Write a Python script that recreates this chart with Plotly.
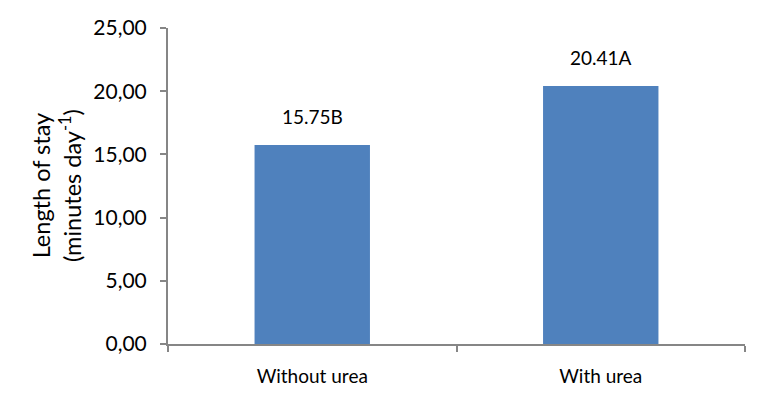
import plotly.graph_objects as go

categories = ['Without urea', 'With urea']
stay_minutes = [15.75, 20.41]
bar_labels = ['15.75B', '20.41A']
y_ticks = [0, 5, 10, 15, 20, 25]

fig = go.Figure()
fig.add_trace(go.Bar(
    x=categories,
    y=stay_minutes,
    width=0.4,
    marker=dict(color='#4F81BD', line=dict(width=0)),
    hoverinfo='skip'
))

for cat, val, lab in zip(categories, stay_minutes, bar_labels):
    fig.add_annotation(x=cat, y=val, text=lab, showarrow=False,
                       yanchor='bottom', yshift=15,
                       font=dict(size=19, color='black'))

# y axis title as rotated annotation so it can be placed exactly
fig.add_annotation(xref='paper', yref='paper', x=0, y=0.5, xshift=-112,
                   text='Length of stay<br>(minutes day<sup>-1</sup>)',
                   textangle=-90, showarrow=False, xanchor='center', yanchor='middle',
                   font=dict(size=23.5, color='black'))

axis_grey = '#868686'
fig.update_xaxes(showline=True, linecolor=axis_grey, linewidth=2,
                 ticks='outside', tickson='boundaries', ticklen=6,
                 tickcolor=axis_grey, tickwidth=2, ticklabelstandoff=14,
                 tickfont=dict(size=19, color='black'), showgrid=False)
fig.update_yaxes(range=[0, 25], tickvals=y_ticks, tickformat='.2f',
                 showline=True, linecolor=axis_grey, linewidth=2,
                 ticks='outside', ticklen=6, tickcolor=axis_grey, tickwidth=2,
                 ticklabelstandoff=9,
                 tickfont=dict(size=21, color='black'), showgrid=False,
                 zeroline=False)

fig.update_layout(
    width=768, height=405,
    margin=dict(l=168, r=23, t=28, b=61),
    plot_bgcolor='white', paper_bgcolor='white',
    font=dict(family='Lato, Open Sans, sans-serif'),
    separators=',.',
    showlegend=False
)

fig.write_html('out.html', config={'displayModeBar': False},
               post_script="document.body.style.margin='0';")
